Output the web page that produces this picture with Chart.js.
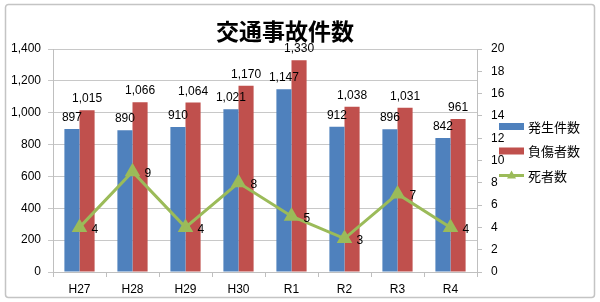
<!DOCTYPE html>
<html>
<head>
<meta charset="utf-8">
<script src="https://cdn.jsdelivr.net/npm/chart.js@4"></script>
<style>
html, body { margin: 0; padding: 0; background: #fff; }
</style>
</head>
<body>
<canvas id="chart" width="600" height="302"></canvas>
<script>
const years = ['H27', 'H28', 'H29', 'H30', 'R1', 'R2', 'R3', 'R4'];
const hassei = [897, 890, 910, 1021, 1147, 912, 896, 842];
const fushou = [1015, 1066, 1064, 1170, 1330, 1038, 1031, 961];
const shisha = [4, 9, 4, 8, 5, 3, 7, 4];
const seriesNames = ['発生件数', '負傷者数', '死者数'];
const titleText = '交通事故件数';

const NUM_FONT = '"Liberation Sans", Arial, sans-serif';
const JP_FONT = '"Noto Sans CJK JP", sans-serif';
const colors = ['#4F81BD', '#C0504D', '#9BBB59'];

// frame, title and legend drawn by hand to match the original layout
const decor = {
    id: 'decor',
    beforeDraw(chart) {
        const ctx = chart.ctx;
        ctx.save();
        ctx.strokeStyle = '#c4c4c4';
        ctx.lineWidth = 1.5;
        ctx.beginPath();
        ctx.roundRect(5.5, 4.5, 589, 293, 3);
        ctx.stroke();
        ctx.restore();
    },
    afterDraw(chart) {
        const ctx = chart.ctx;
        ctx.save();
        ctx.fillStyle = '#000';
        ctx.font = 'bold 23px ' + JP_FONT;
        ctx.textAlign = 'center';
        ctx.textBaseline = 'middle';
        ctx.fillText(titleText, 285, 31);

        const rows = [126.5, 151, 175.5];
        ctx.font = '13px ' + JP_FONT;
        ctx.textAlign = 'left';
        rows.forEach((y, i) => {
            if (i < 2) {
                ctx.fillStyle = colors[i];
                ctx.fillRect(499, y - 3.5, 25, 7);
            } else {
                ctx.strokeStyle = colors[2];
                ctx.lineWidth = 3;
                ctx.beginPath();
                ctx.moveTo(499, y);
                ctx.lineTo(524, y);
                ctx.stroke();
                ctx.fillStyle = colors[2];
                ctx.beginPath();
                ctx.moveTo(511.5, y - 5);
                ctx.lineTo(516, y + 3);
                ctx.lineTo(507, y + 3);
                ctx.closePath();
                ctx.fill();
            }
            ctx.fillStyle = '#000';
            ctx.fillText(seriesNames[i], 528, y + 0.5);
        });
        ctx.restore();
    }
};

const valueLabels = {
    id: 'valueLabels',
    afterDatasetsDraw(chart) {
        const ctx = chart.ctx;
        ctx.save();
        ctx.font = '12px ' + NUM_FONT;
        ctx.fillStyle = '#000';
        chart.data.datasets.forEach((ds, i) => {
            const meta = chart.getDatasetMeta(i);
            meta.data.forEach((el, j) => {
                const txt = ds.data[j].toLocaleString('en-US');
                if (ds.type === 'line') {
                    ctx.textAlign = 'left';
                    ctx.textBaseline = 'middle';
                    ctx.fillText(txt, el.x + 12, el.y + 2);
                } else {
                    ctx.textAlign = 'center';
                    ctx.textBaseline = 'alphabetic';
                    ctx.fillText(txt, el.x, el.y - 8);
                }
            });
        });
        ctx.restore();
    }
};

const ctx = document.getElementById('chart').getContext('2d');
new Chart(ctx, {
    data: {
        labels: years,
        datasets: [
            {
                type: 'line',
                label: seriesNames[2],
                data: shisha,
                yAxisID: 'y2',
                borderColor: colors[2],
                backgroundColor: colors[2],
                borderWidth: 3,
                pointStyle: 'triangle',
                pointRadius: 6,
                pointHoverRadius: 6,
                tension: 0,
                order: 0
            },
            {
                type: 'bar',
                label: seriesNames[0],
                data: hassei,
                yAxisID: 'y',
                backgroundColor: colors[0],
                barPercentage: 1,
                categoryPercentage: 0.57,
                order: 1
            },
            {
                type: 'bar',
                label: seriesNames[1],
                data: fushou,
                yAxisID: 'y',
                backgroundColor: colors[1],
                barPercentage: 1,
                categoryPercentage: 0.57,
                order: 1
            }
        ]
    },
    options: {
        responsive: false,
        animation: false,
        layout: { padding: { top: 49, left: 0, right: 0, bottom: 0 } },
        plugins: {
            legend: { display: false },
            title: { display: false },
            tooltip: { enabled: false }
        },
        scales: {
            x: {
                offset: true,
                grid: {
                    offset: true,
                    drawOnChartArea: false,
                    color: '#bfbfbf',
                    tickLength: 5
                },
                border: { color: '#bfbfbf' },
                ticks: { color: '#000', font: { family: NUM_FONT, size: 12 }, padding: 5 },
                afterFit(scale) { scale.height = 30; }
            },
            y: {
                position: 'left',
                min: 0,
                max: 1400,
                ticks: {
                    stepSize: 200,
                    color: '#000',
                    font: { family: NUM_FONT, size: 12 },
                    padding: 7,
                    callback: v => v.toLocaleString('en-US')
                },
                grid: { color: '#c8c8c8', tickLength: 5 },
                border: { color: '#bfbfbf' },
                afterFit(scale) { scale.width = 53; }
            },
            y2: {
                position: 'right',
                min: 0,
                max: 20,
                ticks: {
                    stepSize: 2,
                    color: '#000',
                    font: { family: NUM_FONT, size: 12 },
                    padding: 9
                },
                grid: { drawOnChartArea: false, color: '#bfbfbf', tickLength: 5 },
                border: { color: '#bfbfbf' },
                afterFit(scale) { scale.width = 123; }
            }
        }
    },
    plugins: [decor, valueLabels]
});
</script>
</body>
</html>
